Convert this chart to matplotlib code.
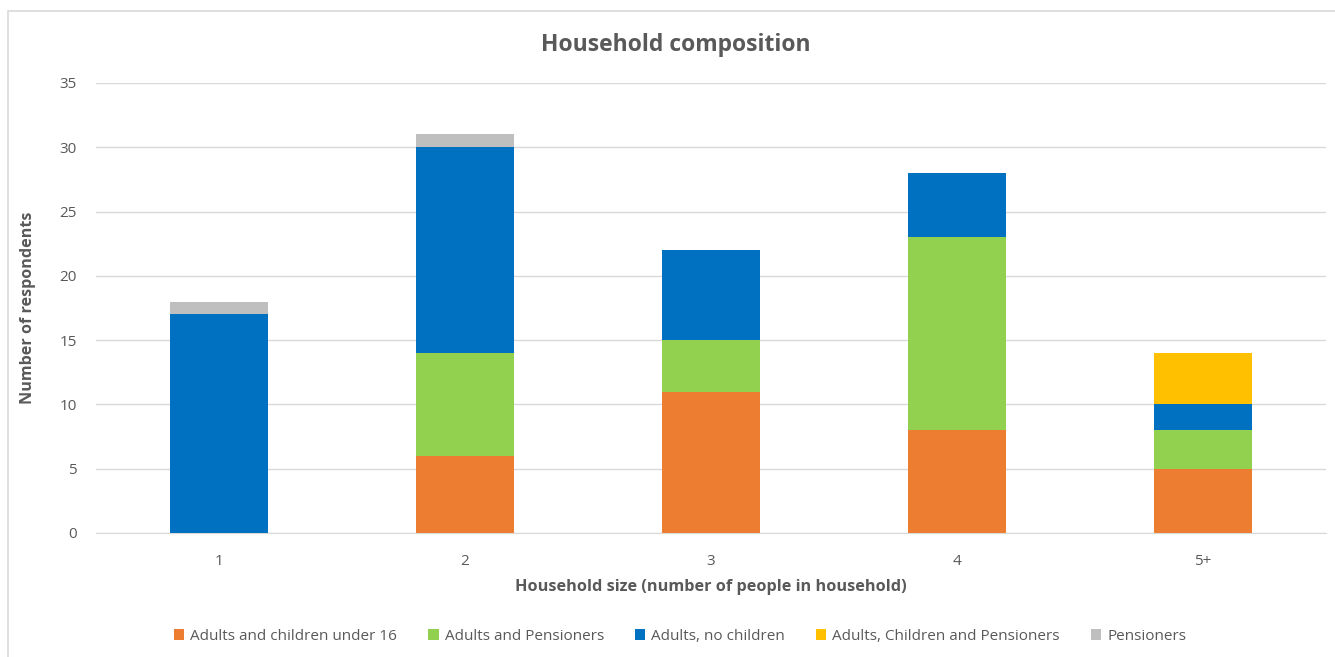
import matplotlib

matplotlib.use("Agg")
import matplotlib.pyplot as plt
import numpy as np
from matplotlib.patches import Rectangle

# Household composition survey counts
household_sizes = ["1", "2", "3", "4", "5+"]
children_under_16 = [0, 6, 11, 8, 5]
adults_pensioners = [0, 8, 4, 15, 3]
adults_no_children = [17, 16, 7, 5, 2]
adults_children_pensioners = [0, 0, 0, 0, 4]
pensioners = [1, 1, 0, 0, 0]

series = [
    ("Adults and children under 16", children_under_16, "#ED7D31"),
    ("Adults and Pensioners", adults_pensioners, "#92D050"),
    ("Adults, no children", adults_no_children, "#0070C0"),
    ("Adults, Children and Pensioners", adults_children_pensioners, "#FFC000"),
    ("Pensioners", pensioners, "#BFBFBF"),
]

text_grey = "#595959"
plt.rcParams["font.family"] = ["Open Sans", "DejaVu Sans"]

fig = plt.figure(figsize=(13.35, 6.57), dpi=100)
fig.patches.append(
    Rectangle((8 / 1335, -0.01), 1.0, 1 - 11 / 657 + 0.01, transform=fig.transFigure,
              fill=False, edgecolor="#D9D9D9", linewidth=1.2)
)
ax = fig.add_axes([96 / 1335, 124 / 657, 1230 / 1335, 450 / 657])

x = np.arange(len(household_sizes))
bottom = np.zeros(len(household_sizes))
handles = []
for label, values, color in series:
    vals = np.array(values, dtype=float)
    bars = ax.bar(x, vals, width=0.4, bottom=bottom, color=color, label=label, zorder=3)
    handles.append(bars)
    bottom += vals

ax.set_xlim(-0.5, len(household_sizes) - 0.5)
ax.set_ylim(0, 35)
ax.set_yticks(range(0, 36, 5))
ax.set_xticks(x)
ax.set_xticklabels(household_sizes)
ax.yaxis.grid(True, color="#D9D9D9", linewidth=1, zorder=0)
for side in ["top", "right", "left"]:
    ax.spines[side].set_visible(False)
ax.spines["bottom"].set_color("#D9D9D9")
ax.tick_params(axis="both", length=0, labelsize=11, colors=text_grey)
ax.tick_params(axis="x", pad=15)
ax.tick_params(axis="y", pad=14)

ax.set_xlabel("Household size (number of people in household)", fontsize=11.7,
              fontweight="bold", color=text_grey, labelpad=7)
ax.set_ylabel("Number of respondents", fontsize=11.6, fontweight="bold",
              color=text_grey, labelpad=17)
fig.text(676 / 1335, 1 - 45 / 657, "Household composition", ha="center", va="center",
         fontsize=16.5, fontweight="bold", color=text_grey)

leg = fig.legend(handles=handles, loc="center", bbox_to_anchor=(680 / 1335, 1 - 636 / 657),
                 ncol=5, frameon=False, fontsize=11, handlelength=0.7,
                 handleheight=0.7, handletextpad=0.4, columnspacing=2.0)
for t in leg.get_texts():
    t.set_color(text_grey)

fig.savefig("out.png", dpi=100)
